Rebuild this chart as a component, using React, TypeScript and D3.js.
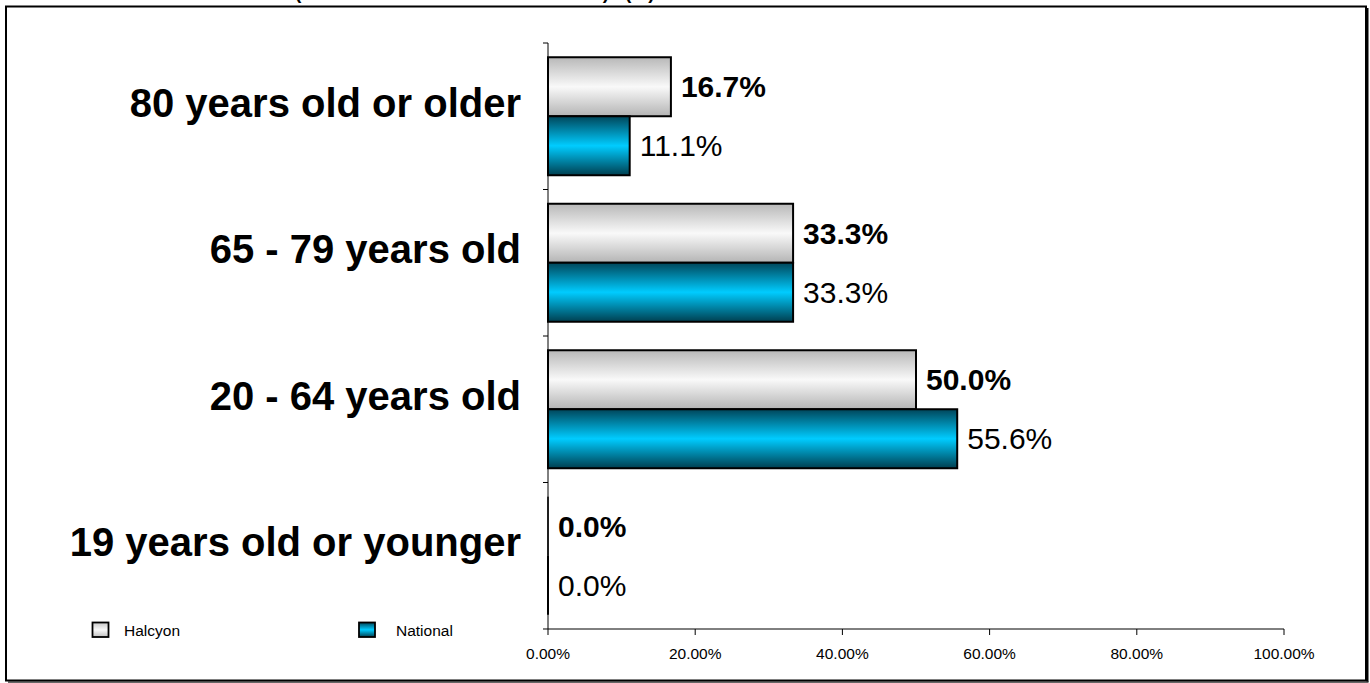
import React from "react";
import * as d3 from "d3";

const categories = ["80 years old or older", "65 - 79 years old", "20 - 64 years old", "19 years old or younger"];
const seriesNames = ["Halcyon", "National"];
const halcyonValues = [16.7, 33.3, 50.0, 0.0];
const nationalValues = [11.1, 33.3, 55.6, 0.0];
const xTicks = [0, 20, 40, 60, 80, 100];

const W = 1370;
const H = 683;
const FONT = "'Liberation Sans', Arial, Helvetica, sans-serif";

export default function App() {
  const x = d3.scaleLinear().domain([0, 100]).range([548, 1284]);
  const y = d3.scaleBand<string>().domain(categories).range([43, 629]).paddingInner(0.1945).paddingOuter(0.0973);
  const ySub = d3.scaleBand<string>().domain(seriesNames).range([0, y.bandwidth()]);
  const series = [
    { name: "Halcyon", values: halcyonValues, fill: "url(#gradGray)", bold: true },
    { name: "National", values: nationalValues, fill: "url(#gradBlue)", bold: false },
  ];
  const axisY = 629;
  const bounds = [43, ...categories.map((c) => (y(c) as number) + y.bandwidth() + (y.step() - y.bandwidth()) / 2)];

  return (
    <svg width={W} height={H} style={{ position: "absolute", left: 0, top: 0, background: "#fff" }} fontFamily={FONT}>
      <defs>
        <linearGradient id="gradGray" x1="0" y1="0" x2="0" y2="1">
          <stop offset="0%" stopColor="#b8b8b8" />
          <stop offset="50%" stopColor="#f9f9f9" />
          <stop offset="100%" stopColor="#b4b4b4" />
        </linearGradient>
        <linearGradient id="gradBlue" x1="0" y1="0" x2="0" y2="1">
          <stop offset="0%" stopColor="#00465a" />
          <stop offset="50%" stopColor="#00ccff" />
          <stop offset="100%" stopColor="#003f50" />
        </linearGradient>
        <linearGradient id="legGray" x1="0" y1="0" x2="0" y2="1">
          <stop offset="0%" stopColor="#c8c8c8" />
          <stop offset="50%" stopColor="#f9f9f9" />
          <stop offset="100%" stopColor="#c0c0c0" />
        </linearGradient>
      </defs>
      <rect x={0} y={0} width={W} height={H} fill="#fff" />
      {/* cut-off title (only its lowest pixels are inside the picture) */}
      <text x={295} y={-1} fontSize={19} fontWeight="bold" textLength={314} lengthAdjust="spacing" fill="#000">
        (HALCYON vs NATIONAL)
      </text>
      <text x={625} y={-1} fontSize={19} fontWeight="bold" fill="#000">(%)</text>
      {/* frame */}
      <rect x={6} y={6.5} width={1360} height={674} fill="none" stroke="#000" strokeWidth={2} />
      <line x1={1367.5} y1={8} x2={1367.5} y2={682} stroke="#000" strokeWidth={2} />
      <line x1={8} y1={682} x2={1368.5} y2={682} stroke="#333" strokeWidth={1.5} />

      {/* bars */}
      {series.map((s) =>
        categories.map((c, i) => {
          const y0 = (y(c) as number) + (ySub(s.name) as number);
          const y1 = y0 + ySub.bandwidth();
          const x0 = x(0);
          const x1 = x(s.values[i]);
          return (
            <path
              key={s.name + c}
              d={`M${x0},${y0}H${x1}V${y1}H${x0}Z`}
              fill={s.fill}
              stroke="#000"
              strokeWidth={s.values[i] === 0 && s.bold ? 1 : 2}
            />
          );
        })
      )}
      {/* value labels */}
      {series.map((s) =>
        categories.map((c, i) => {
          const yc = (y(c) as number) + (ySub(s.name) as number) + ySub.bandwidth() / 2;
          return (
            <text
              key={"l" + s.name + c}
              x={x(s.values[i]) + 10}
              y={yc + 10.5}
              fontSize={30}
              fontWeight={s.bold ? "bold" : "normal"}
              fill="#000"
            >
              {s.values[i].toFixed(1) + "%"}
            </text>
          );
        })
      )}

      {/* y axis */}
      <line x1={548} y1={43} x2={548} y2={axisY} stroke="#000" strokeWidth={1} />
      {bounds.map((b, i) => (
        <line key={"yt" + i} x1={543} y1={b} x2={548} y2={b} stroke="#000" strokeWidth={1} />
      ))}
      {categories.map((c) => (
        <text
          key={"c" + c}
          x={521}
          y={(y(c) as number) + y.bandwidth() / 2 + 0.5}
          textAnchor="end"
          fontSize={40}
          fontWeight="bold"
          fill="#000"
        >
          {c}
        </text>
      ))}

      {/* x axis */}
      <line x1={x(0)} y1={axisY} x2={x(100)} y2={axisY} stroke="#000" strokeWidth={1} />
      {xTicks.map((t) => (
        <g key={"xt" + t}>
          <line x1={x(t)} y1={axisY} x2={x(t)} y2={axisY + 6} stroke="#000" strokeWidth={1} />
          <text x={x(t)} y={659} textAnchor="middle" fontSize={15.5} fill="#000">
            {t.toFixed(2) + "%"}
          </text>
        </g>
      ))}

      {/* legend */}
      <rect x={92.5} y={622.5} width={16} height={14.5} fill="url(#legGray)" stroke="#000" strokeWidth={1.8} />
      <text x={124} y={635.7} fontSize={15.5} fill="#000">Halcyon</text>
      <rect x={359} y={622.5} width={16} height={14.5} fill="url(#gradBlue)" stroke="#000" strokeWidth={1.8} />
      <text x={396} y={635.7} fontSize={15.5} fill="#000">National</text>
    </svg>
  );
}
